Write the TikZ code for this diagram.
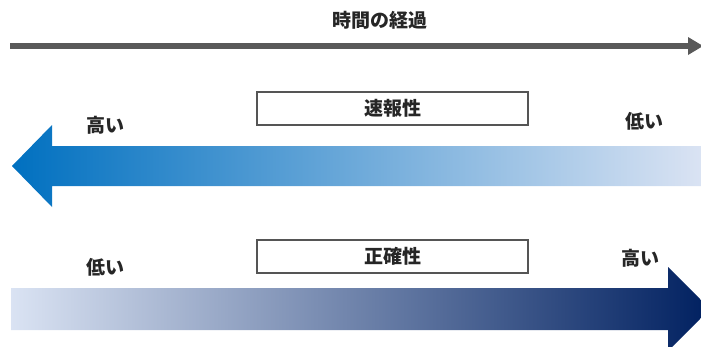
\documentclass[tikz,border=0pt]{standalone}
\usepackage{fontspec}
\setmainfont{Noto Sans CJK JP}
\definecolor{axisgray}{HTML}{595959}
\definecolor{boxgray}{HTML}{555555}
\definecolor{blueA}{HTML}{0070C0}
\definecolor{blueB}{HTML}{8FAADC}
\definecolor{blueC}{HTML}{DAE3F3}
\definecolor{navyA}{HTML}{DAE3F3}
\definecolor{navyB}{HTML}{8497B0}
\definecolor{navyC}{HTML}{002060}
\begin{document}
\begin{tikzpicture}[x=1pt,y=-1pt,
  lbl/.style={font=\fontsize{19}{19}\selectfont\bfseries, text=black!85, inner sep=0pt},
  titlebox/.style={draw=boxgray, line width=2pt, fill=white, minimum width=271pt, minimum height=33pt, inner sep=0pt, font=\fontsize{19}{19}\selectfont\bfseries, text=black!85}]
\useasboundingbox (0,0) rectangle (701,346);
\clip (0,0) rectangle (701,346);
% time axis
\node[lbl] (title) at (380,20) {時間の経過};
\coordinate (ts) at (10,46);
\coordinate (te) at (690,46);
\coordinate (tip) at (703,46);
\draw[axisgray, line width=6pt] (ts) -- (te);
\fill[axisgray] (688,37) -- (tip) -- (688,55) -- cycle;
% first property
\node[titlebox] (b1) at (392.5,108.5) {速報性};
\node[lbl] (h1) at (105,125) {高い};
\node[lbl] (l1) at (644,121) {低い};
\shade[left color=blueA, middle color=blueB, right color=blueC]
  (12,166) -- (52,125) -- (52,146) -- (701,146) -- (701,186) -- (52,186) -- (52,207) -- cycle;
% second property
\node[titlebox] (b2) at (392.5,256.5) {正確性};
\node[lbl] (l2) at (105,267) {低い};
\node[lbl] (h2) at (640,258) {高い};
\shade[left color=navyA, middle color=navyB, right color=navyC]
  (11,288) -- (668,288) -- (668,267) -- (710,309) -- (668,351) -- (668,330) -- (11,330) -- cycle;
\end{tikzpicture}
\end{document}
